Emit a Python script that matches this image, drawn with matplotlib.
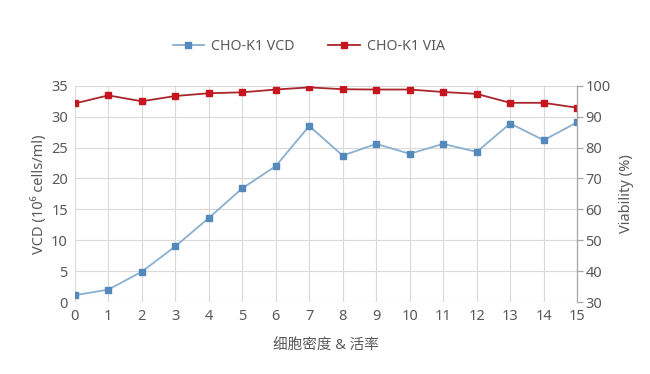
import numpy as np
import matplotlib.pyplot as plt

plt.rcParams['font.family'] = ['Noto Sans', 'Noto Sans CJK SC', 'DejaVu Sans']

days = list(range(16))
vcd = [1.1, 2.0, 4.9, 9.0, 13.6, 18.4, 22.0, 28.5, 23.7, 25.6, 24.0, 25.6, 24.3, 28.9, 26.2, 29.1]
via = [94.3, 96.9, 95.0, 96.7, 97.6, 97.9, 98.8, 99.5, 98.9, 98.8, 98.8, 98.0, 97.4, 94.5, 94.5, 92.9]

gray = '#595959'
grid = '#d9d9d9'
fs = 10.5

fig = plt.figure(figsize=(6.5, 3.74), dpi=100)
ax = fig.add_axes([0.115, 0.1925, 0.773, 0.578])
ax2 = ax.twinx()

l1, = ax.plot(days, vcd, color='#8aafcf', marker='s', markersize=4.5,
              markerfacecolor='#5389bb', markeredgecolor='#5389bb', lw=1.3,
              label='CHO-K1 VCD')
l2, = ax2.plot(days, via, color='#a8262c', marker='s', markersize=4.5,
               markerfacecolor='#c8141e', markeredgecolor='#c8141e', lw=1.3,
               label='CHO-K1 VIA')

ax.set_xlim(0, 15)
ax.set_ylim(0, 35)
ax.set_yticks(range(0, 36, 5))
ax.set_xticks(days)
ax2.set_ylim(30, 100)
ax2.set_yticks(range(30, 101, 10))

ax.grid(True, color=grid, lw=0.8)
ax.set_axisbelow(True)
for a in (ax, ax2):
    for s in a.spines.values():
        s.set_visible(False)
ax2.spines['right'].set_visible(True)
ax2.spines['right'].set_color('#a6a6a6')
ax2.spines['right'].set_linewidth(0.9)

ax.tick_params(axis='both', length=0, colors=gray, labelsize=fs, pad=5)
ax2.tick_params(axis='y', length=4, width=0.9, color='#a6a6a6', labelcolor=gray,
                labelsize=fs, pad=2)

ax.set_ylabel('VCD (10⁶ cells/ml)', color=gray, fontsize=fs, labelpad=3)
ax2.set_ylabel('Viability (%)', color=gray, fontsize=fs, labelpad=6)
ax.set_xlabel('细胞密度 & 活率', color=gray, fontsize=fs, labelpad=10)

fig.legend(handles=[l1, l2], loc='center', bbox_to_anchor=(0.475, 0.877), ncol=2,
           frameon=False, fontsize=10.2, labelcolor=gray, handlelength=2.2,
           columnspacing=2.4, handletextpad=0.5)

fig.savefig('out.png', dpi=100)
